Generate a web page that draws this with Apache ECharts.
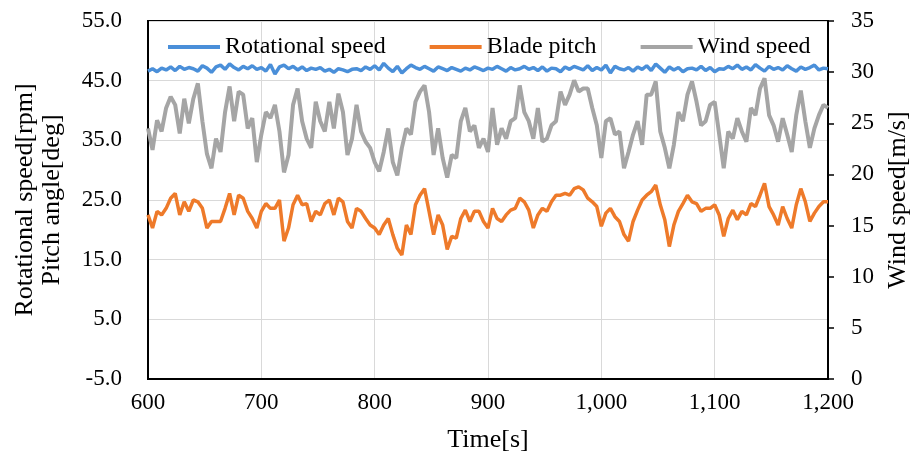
<!DOCTYPE html>
<html>
<head>
<meta charset="utf-8">
<script src="https://cdn.jsdelivr.net/npm/echarts@6/dist/echarts.min.js"></script>
<style>html,body{margin:0;padding:0;background:#fff;}#c{width:912px;height:461px;}</style>
</head>
<body>
<div id="c"></div>
<script>
// Sampling: every 4 s from 600 s to 1200 s
const startTime = 600;
const stepTime = 4;

const seriesNames = ['Rotational speed', 'Blade pitch', 'Wind speed'];

const rotationalSpeed = [
  46.6, 47.0, 46.5, 47.1, 46.8, 47.3, 46.7, 47.4, 46.9, 47.2,
  47.0, 46.6, 47.5, 47.1, 46.4, 47.3, 47.6, 46.9, 47.8, 47.2,
  46.8, 47.4, 47.0, 47.5, 46.9, 47.2, 46.6, 47.7, 46.1, 47.3,
  47.6, 47.0, 47.4, 46.8, 47.3, 46.7, 47.1, 46.9, 47.2, 46.6,
  46.9, 46.4, 47.0, 46.8, 46.5, 46.9, 47.0, 46.7, 47.3, 46.9,
  47.5, 46.8, 47.9, 47.1, 46.5, 47.4, 46.3, 47.0, 47.6, 47.2,
  46.9, 47.4, 47.0, 46.6, 47.3, 47.0, 46.7, 47.2, 46.9, 46.6,
  47.1, 46.8, 47.3, 47.0, 46.7, 47.1, 46.9, 47.4, 47.0, 46.6,
  47.2, 46.8, 47.0, 47.4, 46.9, 47.2, 46.7, 47.3, 46.6, 47.1,
  47.0, 46.5, 47.3, 46.9, 47.4, 47.1, 46.8, 47.5, 46.7, 47.2,
  46.8, 47.6, 46.3, 47.4, 47.0, 46.8, 47.2, 46.6, 47.3, 46.9,
  47.5, 46.7, 47.8, 47.1, 46.4, 47.3, 46.8, 47.2, 46.5, 47.0,
  47.1, 46.8, 47.4, 46.7, 47.2, 46.5, 47.0, 46.9, 47.4, 47.0,
  47.6, 46.9, 47.3, 46.8, 47.7, 47.1, 46.6, 47.4, 46.9, 47.2,
  46.8, 47.5, 47.0, 46.6, 47.3, 46.9, 47.2, 47.6, 46.8, 47.1,
  47.0
];

const bladePitch = [
  22.5, 20.3, 23.1, 22.5, 23.6, 25.3, 26.1, 22.5, 24.7, 23.1,
  25.0, 24.7, 23.6, 20.3, 21.4, 21.4, 21.4, 23.6, 26.1, 22.5,
  25.8, 25.3, 23.1, 21.9, 20.3, 23.1, 24.4, 23.6, 23.6, 25.0,
  18.1, 20.3, 24.2, 25.8, 24.2, 24.4, 21.4, 23.1, 22.5, 24.4,
  25.0, 22.5, 25.3, 24.7, 21.4, 20.3, 23.6, 23.1, 21.9, 20.8,
  20.3, 19.2, 20.8, 21.9, 19.2, 16.9, 15.8, 20.8, 19.2, 24.2,
  25.8, 26.9, 23.1, 19.2, 22.5, 20.8, 16.7, 18.9, 18.6, 21.9,
  23.3, 21.4, 23.1, 23.1, 21.4, 20.3, 23.6, 21.9, 21.4, 22.5,
  23.3, 23.6, 25.3, 24.7, 23.3, 20.3, 22.5, 23.6, 23.1, 24.7,
  25.8, 25.8, 26.1, 25.8, 26.9, 27.2, 26.7, 25.3, 24.7, 23.9,
  20.6, 22.8, 23.6, 22.2, 21.4, 19.2, 18.1, 21.4, 23.3, 25.0,
  25.8, 26.4, 27.5, 24.2, 21.7, 17.2, 20.8, 23.1, 24.4, 25.8,
  24.7, 24.4, 23.1, 23.6, 23.6, 24.2, 22.5, 18.9, 21.9, 23.3,
  21.7, 23.1, 22.5, 24.4, 23.9, 25.8, 27.8, 23.9, 22.5, 20.8,
  23.9, 21.9, 20.3, 24.2, 26.9, 24.7, 21.4, 22.8, 23.9, 24.7,
  24.7
];

const windSpeed = [
  24.5, 22.4, 25.3, 24.2, 26.5, 27.6, 26.8, 24.0, 27.4, 25.0,
  27.4, 28.9, 25.2, 22.0, 20.6, 23.5, 22.2, 26.1, 28.6, 25.2,
  28.1, 27.8, 24.5, 25.5, 21.2, 23.9, 26.1, 25.5, 26.8, 24.2,
  20.2, 21.9, 26.8, 28.4, 25.2, 23.5, 22.6, 27.1, 25.2, 24.2,
  27.1, 24.5, 27.9, 26.1, 21.9, 23.5, 26.8, 24.2, 23.2, 22.6,
  21.2, 20.3, 22.2, 24.5, 21.2, 19.9, 22.6, 24.5, 23.9, 27.1,
  28.1, 28.7, 26.1, 21.9, 24.5, 21.6, 19.7, 21.9, 21.6, 25.2,
  26.5, 24.2, 24.8, 22.6, 23.5, 22.2, 26.5, 22.9, 24.5, 23.5,
  25.2, 25.5, 28.7, 26.1, 25.2, 23.5, 26.5, 23.2, 23.5, 24.8,
  25.2, 28.1, 26.8, 27.8, 29.2, 28.1, 28.4, 28.4, 26.5, 24.8,
  21.6, 25.2, 25.5, 23.9, 24.2, 20.6, 22.2, 23.9, 25.2, 22.9,
  27.8, 27.8, 29.1, 24.2, 22.6, 20.6, 22.9, 26.1, 25.2, 27.8,
  29.1, 27.1, 24.8, 25.2, 26.8, 27.1, 23.9, 20.6, 24.2, 23.5,
  25.5, 24.2, 23.2, 26.5, 25.8, 28.4, 29.4, 25.8, 24.8, 23.2,
  25.5, 23.9, 22.2, 25.8, 28.2, 25.2, 22.6, 24.5, 25.8, 26.8,
  26.5
];

const xAxisName = 'Time[s]';
const leftAxisName = 'Rotational speed[rpm]\nPitch angle[deg]';
const rightAxisName = 'Wind speed[m/s]';

function pairs(vals) {
  return vals.map((v, i) => [startTime + i * stepTime, v]);
}

const FONT = '"Liberation Serif", "Times New Roman", serif';
const chart = echarts.init(document.getElementById('c'), null, {renderer: 'canvas'});
chart.setOption({
  backgroundColor: '#ffffff',
  animation: false,
  textStyle: {fontFamily: FONT, color: '#000'},
  grid: {left: 148, right: 84, top: 21, bottom: 82, show: true, borderColor: '#000', borderWidth: 2,
    backgroundColor: 'transparent', containLabel: false, outerBoundsMode: 'none'},
  legend: {
    data: seriesNames,
    left: 163, top: 30,
    icon: 'rect', itemWidth: 52, itemHeight: 4, itemGap: 44,
    textStyle: {fontFamily: FONT, fontSize: 24, color: '#000'}
  },
  xAxis: {
    type: 'value', min: 600, max: 1200, interval: 100,
    name: xAxisName, nameLocation: 'middle', nameGap: 48,
    nameTextStyle: {fontFamily: FONT, fontSize: 26, color: '#000'},
    axisLine: {show: true, onZero: false, lineStyle: {color: '#000', width: 2}},
    axisTick: {show: false},
    axisLabel: {margin: 12, fontFamily: FONT, fontSize: 23, color: '#000',
      formatter: v => v.toLocaleString('en-US')},
    splitLine: {show: true, lineStyle: {color: '#d9d9d9', width: 1}}
  },
  yAxis: [
    {
      type: 'value', min: -5, max: 55, interval: 10, position: 'left',
      name: leftAxisName, nameLocation: 'middle', nameGap: 82, nameRotate: 90,
      nameTextStyle: {fontFamily: FONT, fontSize: 26, color: '#000', lineHeight: 27},
      axisLine: {show: true, onZero: false, lineStyle: {color: '#000', width: 2}},
      axisTick: {show: false},
      axisLabel: {margin: 26, fontFamily: FONT, fontSize: 23, color: '#000',
        formatter: v => v.toFixed(1)},
      splitLine: {show: true, lineStyle: {color: '#d9d9d9', width: 1}}
    },
    {
      type: 'value', min: 0, max: 35, interval: 5, position: 'right',
      name: rightAxisName, nameLocation: 'middle', nameGap: 57, nameRotate: 90,
      nameTextStyle: {fontFamily: FONT, fontSize: 26, color: '#000'},
      axisLine: {show: true, onZero: false, lineStyle: {color: '#000', width: 2}},
      axisTick: {show: true, inside: false, length: 6, lineStyle: {color: '#000', width: 1.5}},
      axisLabel: {margin: 23, fontFamily: FONT, fontSize: 23, color: '#000'},
      splitLine: {show: false}
    }
  ],
  series: [
    {name: seriesNames[0], type: 'line', yAxisIndex: 0, showSymbol: false, symbol: 'none',
      data: pairs(rotationalSpeed), color: '#4a8fd9', lineStyle: {width: 3.5, color: '#4a8fd9'}, z: 4},
    {name: seriesNames[1], type: 'line', yAxisIndex: 0, showSymbol: false, symbol: 'none',
      data: pairs(bladePitch), color: '#ee7a2a', lineStyle: {width: 3.5, color: '#ee7a2a'}, z: 3},
    {name: seriesNames[2], type: 'line', yAxisIndex: 1, showSymbol: false, symbol: 'none',
      data: pairs(windSpeed), color: '#a5a5a5', lineStyle: {width: 4, color: '#a5a5a5'}, z: 2}
  ]
});
</script>
</body>
</html>
